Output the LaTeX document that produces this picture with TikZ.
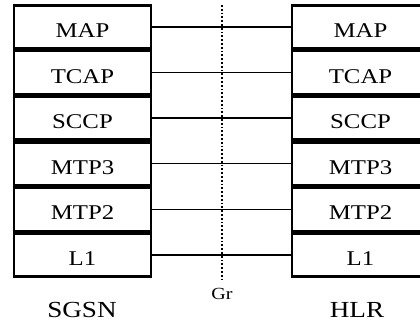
\documentclass[tikz,border=0pt]{standalone}
\usepackage{fontspec}
\usepackage{graphicx}
\setmainfont{Liberation Serif}
\usetikzlibrary{positioning}
\newcommand{\widetext}[1]{\scalebox{1.18}[1]{#1}}

\begin{document}
\begin{tikzpicture}[x=1pt,y=1pt,
		layer/.style={draw, line width=2.6pt, minimum width=137pt, minimum height=43pt,
			inner sep=0pt, text height=21pt, text depth=0pt,
			font=\fontsize{21}{25}\selectfont},
		link/.style={line width=1.4pt},
		iface/.style={line width=1.8pt, dotted},
		entity/.style={font=\fontsize{23}{27}\selectfont}]
			\useasboundingbox (0,0) rectangle (420,-331);
			\node (s1) [layer] at (82.5,-27) {\widetext{MAP}};
			\node (s2) [layer, below=0pt of s1] {\widetext{TCAP}};
			\node (s3) [layer, below=0pt of s2] {\widetext{SCCP}};
			\node (s4) [layer, below=0pt of s3] {\widetext{MTP3}};
			\node (s5) [layer, below=0pt of s4] {\widetext{MTP2}};
			\node (s6) [layer, below=0pt of s5] {\widetext{L1}};
			\node (h1) [layer] at (360.5,-27) {\widetext{MAP}};
			\node (h2) [layer, below=0pt of h1] {\widetext{TCAP}};
			\node (h3) [layer, below=0pt of h2] {\widetext{SCCP}};
			\node (h4) [layer, below=0pt of h3] {\widetext{MTP3}};
			\node (h5) [layer, below=0pt of h4] {\widetext{MTP2}};
			\node (h6) [layer, below=0pt of h5] {\widetext{L1}};
			\coordinate (gtop) at (222,-5);
			\coordinate (gbot) at (222,-279);
			\node (sgsn) [entity] at (82,-310) {\widetext{SGSN}};
			\node (hlr) [entity] at (357,-310) {\widetext{HLR}};
			\node (gr) [font=\fontsize{17}{20}\selectfont] at (222,-294) {\widetext{Gr}};
			\draw[link] (s1) -- (h1);
			\draw[link] (s2) -- (h2);
			\draw[link] (s3) -- (h3);
			\draw[link] (s4) -- (h4);
			\draw[link] (s5) -- (h5);
			\draw[link] (s6) -- (h6);
			\draw[iface] (gtop) -- (gbot);
		\end{tikzpicture}
\end{document}
